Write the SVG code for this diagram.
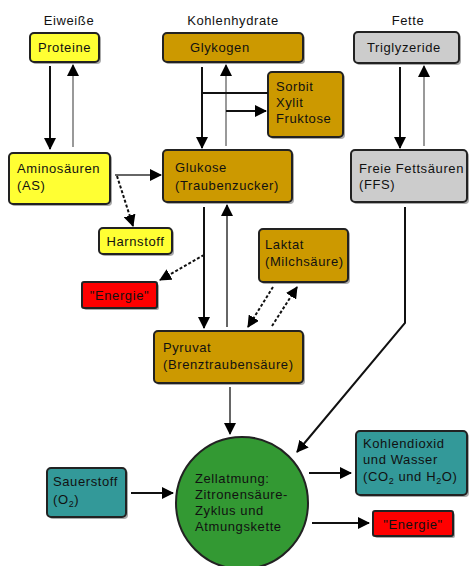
<svg xmlns="http://www.w3.org/2000/svg" width="470" height="566" viewBox="0 0 470 566">
<style>
text{font-family:"Liberation Sans",Arial,sans-serif;font-size:13px;letter-spacing:0.6px;fill:#111}
.box{stroke:#222;stroke-width:2}
.sh{fill:#aaa}
.y{fill:#ffff33}.g{fill:#cc9900}.gr{fill:#cccccc}.r{fill:#ff0000}.t{fill:#339999}
.ln{stroke:#111;stroke-width:2;fill:none}
.lg{stroke:#999;stroke-width:2;fill:none}
.lm{stroke:#666;stroke-width:2;fill:none}
.ds{stroke:#111;stroke-width:2;fill:none;stroke-dasharray:3 2}
.c{text-anchor:middle}
</style>
<defs>
<marker id="ah" markerUnits="userSpaceOnUse" markerWidth="12" markerHeight="12" refX="11" refY="6" orient="auto">
<path d="M0,0 L12,6 L0,12 z" fill="#000"/>
</marker>
</defs>
<g id="titles">
<text x="69" y="25" class="c">Eiweiße</text>
<text x="233" y="25" class="c">Kohlenhydrate</text>
<text x="408" y="25" class="c">Fette</text>
</g>
<g id="proteine">
<rect x="32" y="35" width="69" height="29" rx="4" class="sh"/>
<rect x="30" y="33" width="69" height="29" rx="4" class="box y"/>
<text x="64.5" y="52" class="c">Proteine</text>
</g>
<g id="glykogen">
<rect x="165" y="35" width="140" height="29" rx="4" class="sh"/>
<rect x="163" y="33" width="140" height="29" rx="4" class="box g"/>
<text x="190" y="52">Glykogen</text>
</g>
<g id="triglyzeride">
<rect x="356" y="34" width="105" height="31" rx="4" class="sh"/>
<rect x="354" y="32" width="105" height="31" rx="4" class="box gr"/>
<text x="367" y="52">Triglyzeride</text>
</g>
<g id="sorbit">
<rect x="270" y="74" width="75" height="65" rx="4" class="sh"/>
<rect x="268" y="72" width="75" height="65" rx="4" class="box g"/>
<text x="276" y="91">Sorbit</text>
<text x="276" y="107">Xylit</text>
<text x="276" y="123">Fruktose</text>
</g>
<g id="aminosaeuren">
<rect x="11" y="155" width="101" height="51" rx="4" class="sh"/>
<rect x="9" y="153" width="101" height="51" rx="4" class="box y"/>
<text x="17" y="173">Aminosäuren</text>
<text x="17" y="190">(AS)</text>
</g>
<g id="glukose">
<rect x="165" y="152" width="129" height="52" rx="4" class="sh"/>
<rect x="163" y="150" width="129" height="52" rx="4" class="box g"/>
<text x="175" y="172">Glukose</text>
<text x="175" y="190">(Traubenzucker)</text>
</g>
<g id="ffs">
<rect x="353" y="152" width="116" height="52" rx="4" class="sh"/>
<rect x="351" y="150" width="116" height="52" rx="4" class="box gr"/>
<text x="359" y="173">Freie Fettsäuren</text>
<text x="359" y="189">(FFS)</text>
</g>
<g id="harnstoff">
<rect x="101" y="230" width="73" height="26" rx="4" class="sh"/>
<rect x="99" y="228" width="73" height="26" rx="4" class="box y"/>
<text x="135.5" y="246" class="c">Harnstoff</text>
</g>
<g id="laktat">
<rect x="261" y="231" width="89" height="53" rx="4" class="sh"/>
<rect x="259" y="229" width="89" height="53" rx="4" class="box g"/>
<text x="265" y="249">Laktat</text>
<text x="265" y="266">(Milchsäure)</text>
</g>
<g id="energie1">
<rect x="84" y="284" width="75" height="26" rx="2" class="sh"/>
<rect x="82" y="282" width="75" height="26" rx="2" class="box r"/>
<text x="119.5" y="300" class="c">"Energie"</text>
</g>
<g id="pyruvat">
<rect x="156" y="333" width="149" height="52" rx="4" class="sh"/>
<rect x="154" y="331" width="149" height="52" rx="4" class="box g"/>
<text x="163" y="352">Pyruvat</text>
<text x="163" y="369">(Brenztraubensäure)</text>
</g>
<g id="kohlendioxid">
<rect x="358" y="433" width="111" height="64" rx="4" class="sh"/>
<rect x="356" y="431" width="111" height="64" rx="4" class="box t"/>
<text x="363" y="448">Kohlendioxid</text>
<text x="363" y="464">und Wasser</text>
<text x="363" y="481">(CO<tspan font-size="9" dy="3">2</tspan><tspan dy="-3"> und H</tspan><tspan font-size="9" dy="3">2</tspan><tspan dy="-3">O)</tspan></text>
</g>
<g id="sauerstoff">
<rect x="49" y="470" width="79" height="49" rx="4" class="sh"/>
<rect x="47" y="468" width="79" height="49" rx="4" class="box t"/>
<text x="53" y="486">Sauerstoff</text>
<text x="53" y="504">(O<tspan font-size="9" dy="3">2</tspan><tspan dy="-3">)</tspan></text>
</g>
<g id="zellatmung">
<circle cx="242" cy="503" r="66" fill="#339933" stroke="#222" stroke-width="2"/>
<text x="195" y="483">Zellatmung:</text>
<text x="195" y="499">Zitronensäure-</text>
<text x="195" y="515">Zyklus und</text>
<text x="195" y="531">Atmungskette</text>
</g>
<g id="energie2">
<rect x="375" y="513" width="80" height="25" rx="2" class="sh"/>
<rect x="373" y="511" width="80" height="25" rx="2" class="box r"/>
<text x="413" y="529" class="c">"Energie"</text>
</g>
<g id="connectors">
<line x1="50" y1="66" x2="50" y2="149" class="ln" marker-end="url(#ah)"/>
<line x1="73" y1="147" x2="73" y2="65" class="lg" marker-end="url(#ah)"/>
<line x1="202" y1="67" x2="202" y2="148" class="ln" marker-end="url(#ah)"/>
<line x1="226" y1="146" x2="226" y2="65" class="lg" marker-end="url(#ah)"/>
<line x1="202" y1="93" x2="268" y2="93" class="ln"/>
<line x1="226" y1="111" x2="266" y2="111" class="ln" marker-end="url(#ah)"/>
<line x1="400" y1="67" x2="400" y2="148" class="ln" marker-end="url(#ah)"/>
<line x1="424" y1="146" x2="424" y2="66" class="lg" marker-end="url(#ah)"/>
<line x1="115" y1="175" x2="161" y2="175" class="lm" marker-end="url(#ah)"/>
<line x1="117" y1="176" x2="133" y2="226" class="ds" marker-end="url(#ah)"/>
<line x1="204" y1="207" x2="204" y2="328" class="ln" marker-end="url(#ah)"/>
<line x1="227" y1="327" x2="227" y2="205" class="lm" marker-end="url(#ah)"/>
<line x1="204" y1="255" x2="160" y2="280" class="ds" marker-end="url(#ah)"/>
<line x1="273" y1="287" x2="248" y2="327" class="ds" marker-end="url(#ah)"/>
<line x1="272" y1="326" x2="297" y2="287" class="ds" marker-end="url(#ah)"/>
<line x1="230" y1="387" x2="230" y2="434" class="lm" marker-end="url(#ah)"/>
<polyline points="405,207 405,323 297,452" class="ln" marker-end="url(#ah)"/>
<line x1="131" y1="493" x2="173" y2="493" class="ln" marker-end="url(#ah)"/>
<line x1="309" y1="473" x2="351" y2="473" class="ln" marker-end="url(#ah)"/>
<line x1="312" y1="523" x2="369" y2="523" class="ln" marker-end="url(#ah)"/>
</g>
</svg>
